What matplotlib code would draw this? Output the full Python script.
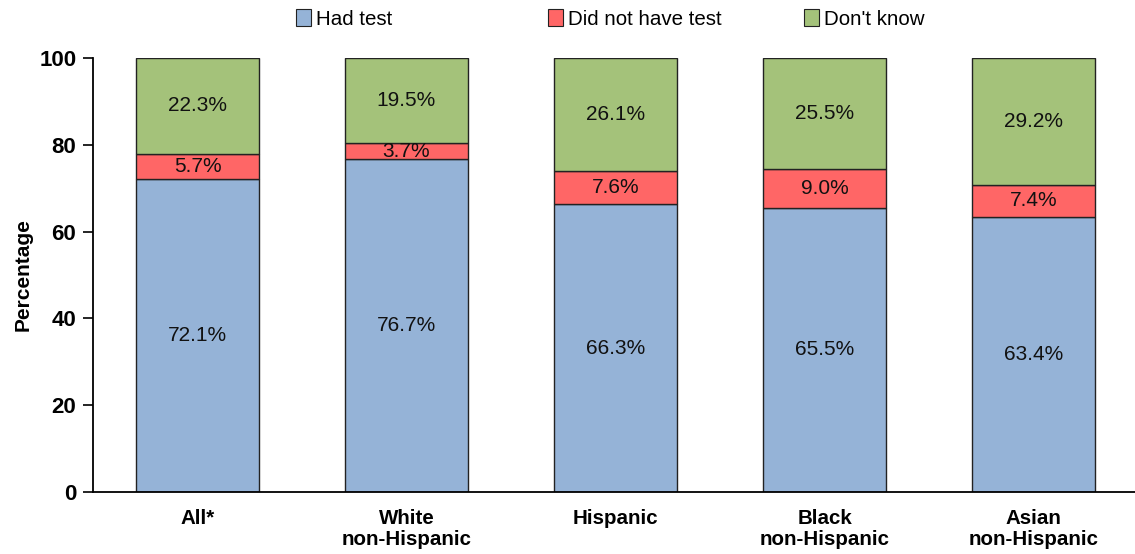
import numpy as np
import matplotlib.pyplot as plt
from matplotlib.patches import Patch

plt.rcParams['font.family'] = ['Liberation Sans', 'DejaVu Sans']

groups = ['All*', 'White\nnon-Hispanic', 'Hispanic', 'Black\nnon-Hispanic', 'Asian\nnon-Hispanic']
had_test = [72.1, 76.7, 66.3, 65.5, 63.4]
no_test = [5.7, 3.7, 7.6, 9.0, 7.4]
dont_know = [22.3, 19.5, 26.1, 25.5, 29.2]
series_names = ['Had test', 'Did not have test', "Don't know"]
colors = ['#95b3d7', '#ff6666', '#a4c27a']

fig = plt.figure(figsize=(11.35, 5.54), dpi=100)
ax = fig.add_axes([93 / 1135, 1 - 492 / 554, 1 - 93 / 1135, 434 / 554])

x = np.arange(len(groups))
w = 0.59
bottom = np.zeros(len(groups))
for vals, col in zip([had_test, no_test, dont_know], colors):
    vals = np.array(vals)
    ax.bar(x, vals, w, bottom=bottom, color=col, edgecolor='#222222', linewidth=1)
    for xi, b, v in zip(x, bottom, vals):
        ax.text(xi, b + v / 2, '%.1f%%' % v, ha='center', va='center', fontsize=15, color='#111111')
    bottom += vals

ax.set_xlim(-0.5, -0.5 + 1042 / 209)
ax.set_ylim(0, 100)
ax.set_yticks([0, 20, 40, 60, 80, 100])
ax.set_xticks(x)
ax.set_xticklabels(groups, fontsize=14.8, fontweight='bold', linespacing=1.15)
ax.tick_params(axis='x', length=0, pad=12)
ax.tick_params(axis='y', length=7, width=1.2, labelsize=16, pad=5)
for lab in ax.get_yticklabels():
    lab.set_fontweight('bold')
ax.set_ylabel('Percentage', fontsize=15, fontweight='bold', labelpad=5)
for s in ['top', 'right']:
    ax.spines[s].set_visible(False)
for s in ['left', 'bottom']:
    ax.spines[s].set_linewidth(1.3)

leg_x = [296, 548, 804]
for name, col, lx in zip(series_names, colors, leg_x):
    h = Patch(facecolor=col, edgecolor='#222222', linewidth=0.8)
    fig.legend([h], [name], loc='center left', bbox_to_anchor=(lx / 1135, 1 - 19 / 554),
               frameon=False, fontsize=14.8, handlelength=0.75, handleheight=0.85,
               handletextpad=0.2, borderpad=0, borderaxespad=0)

fig.savefig('out.png', dpi=100)
